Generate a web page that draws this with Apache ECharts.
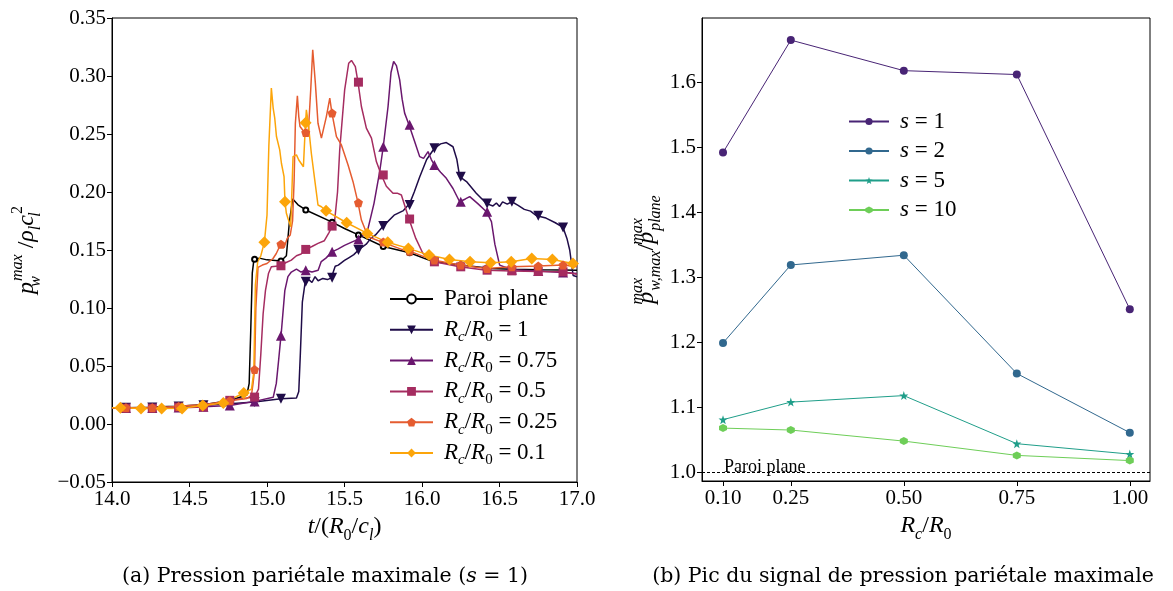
<!DOCTYPE html>
<html><head><meta charset="utf-8">
<script src="https://cdn.jsdelivr.net/npm/echarts@6/dist/echarts.min.js"></script>
<style>html,body{margin:0;padding:0;background:#fff}#c{width:1173px;height:591px}</style>
</head><body><div id="c"></div>
<script>
// ---------- DATA (left panel: t/(R0/cl) vs p) ----------
const xTicksLeft = [14.0, 14.5, 15.0, 15.5, 16.0, 16.5, 17.0];
const yTicksLeft = [-0.05, 0.0, 0.05, 0.10, 0.15, 0.20, 0.25, 0.30, 0.35];

// shared marker times for the first five curves
const markT = [14.09,14.26,14.43,14.59,14.76,14.92,15.09,15.25,15.42,15.59,15.75,15.92,16.08,16.25,16.42,16.58,16.75,16.91];
// marker times for Rc/R0 = 0.1
const markT01 = [14.054,14.187,14.32,14.452,14.585,14.718,14.85,14.983,15.116,15.249,15.381,15.514,15.647,15.779,15.912,16.045,16.177,16.31,16.443,16.576,16.708,16.841,16.974];

const linePlane = [[14.0,0.014],[14.3,0.0148],[14.5,0.016],[14.7,0.019],[14.8,0.022],[14.87,0.025],[14.885,0.035],[14.895,0.08],[14.905,0.13],[14.915,0.141],[14.95,0.143],[15.0,0.1415],[15.1,0.1402],[15.125,0.145],[15.145,0.175],[15.166,0.194],[15.2,0.189],[15.5,0.1685],[15.92,0.1476],[16.07,0.140],[16.44,0.134],[17.0,0.1326]];
const markPlane = [0.0141,0.0145,0.0152,0.0165,0.020,0.142,0.1405,0.1845,0.174,0.163,0.153,0.1476,0.1405,0.137,0.1345,0.1335,0.133,0.1328];

const lineRc1 = [[14.0,0.014],[14.5,0.0155],[14.92,0.019],[15.09,0.0218],[15.19,0.0225],[15.205,0.028],[15.215,0.06],[15.228,0.105],[15.245,0.121],[15.27,0.1245],[15.29,0.122],[15.31,0.127],[15.33,0.1235],[15.36,0.1255],[15.39,0.1245],[15.415,0.126],[15.44,0.136],[15.46,0.137],[15.5,0.141],[15.53,0.1435],[15.56,0.146],[15.6,0.151],[15.64,0.155],[15.67,0.16],[15.7,0.163],[15.75,0.1706],[15.82,0.18],[15.88,0.184],[15.92,0.19],[15.95,0.2],[15.985,0.213],[16.03,0.228],[16.08,0.2377],[16.12,0.2415],[16.157,0.2426],[16.2,0.239],[16.225,0.228],[16.243,0.2132],[16.287,0.209],[16.35,0.199],[16.416,0.19],[16.458,0.188],[16.48,0.1905],[16.5,0.1875],[16.52,0.1915],[16.55,0.1895],[16.58,0.1916],[16.62,0.1885],[16.66,0.185],[16.7,0.1835],[16.74,0.1795],[16.8,0.1775],[16.86,0.1735],[16.91,0.1695],[16.935,0.16],[16.953,0.15],[16.975,0.128],[17.0,0.127]];
const markRc1 = [0.0141,0.0143,0.015,0.0162,0.0175,0.019,0.0218,0.1226,0.126,0.150,0.1706,0.1888,0.2377,0.2132,0.19,0.1916,0.1795,0.1695];

const lineRc075 = [[14.0,0.0138],[14.4,0.0142],[14.76,0.016],[14.92,0.0195],[15.04,0.023],[15.06,0.035],[15.075,0.055],[15.093,0.08],[15.115,0.115],[15.135,0.127],[15.157,0.131],[15.19,0.1335],[15.22,0.131],[15.254,0.1326],[15.29,0.131],[15.33,0.1325],[15.35,0.14],[15.38,0.143],[15.42,0.1484],[15.46,0.151],[15.5,0.154],[15.55,0.157],[15.587,0.159],[15.62,0.163],[15.652,0.1686],[15.69,0.19],[15.727,0.2175],[15.753,0.239],[15.781,0.2737],[15.8,0.303],[15.817,0.3125],[15.835,0.309],[15.856,0.2967],[15.872,0.28],[15.888,0.268],[15.916,0.2579],[15.953,0.2434],[15.985,0.2305],[16.01,0.229],[16.039,0.2348],[16.06,0.228],[16.082,0.2233],[16.12,0.217],[16.157,0.2118],[16.2,0.203],[16.243,0.1916],[16.28,0.194],[16.308,0.196],[16.36,0.19],[16.416,0.183],[16.448,0.1744],[16.47,0.155],[16.501,0.137],[16.587,0.1326],[16.8,0.1315],[17.0,0.1298]];
const markRc075 = [0.0138,0.0138,0.0142,0.0148,0.016,0.0195,0.076,0.1326,0.1484,0.159,0.239,0.2579,0.2233,0.1916,0.183,0.1330,0.1318,0.1305];

const lineRc05 = [[14.0,0.0138],[14.5,0.0142],[14.76,0.0204],[14.92,0.0232],[14.945,0.03],[14.96,0.06],[14.975,0.095],[14.99,0.115],[15.01,0.13],[15.028,0.1355],[15.088,0.1364],[15.12,0.139],[15.157,0.1413],[15.19,0.145],[15.22,0.1465],[15.254,0.1505],[15.29,0.153],[15.329,0.1557],[15.37,0.158],[15.4,0.165],[15.42,0.1706],[15.437,0.176],[15.455,0.2],[15.469,0.236],[15.501,0.288],[15.527,0.311],[15.545,0.3134],[15.57,0.308],[15.587,0.2947],[15.609,0.2737],[15.641,0.255],[15.674,0.2464],[15.706,0.226],[15.738,0.2147],[15.77,0.205],[15.813,0.1989],[15.84,0.199],[15.867,0.1974],[15.916,0.1767],[15.96,0.16],[16.006,0.147],[16.082,0.1398],[16.243,0.1355],[16.416,0.1326],[16.587,0.132],[16.91,0.1312],[17.0,0.129]];
const markRc05 = [0.0137,0.0137,0.0146,0.0146,0.0204,0.0232,0.1364,0.1505,0.1706,0.2947,0.2147,0.1767,0.1398,0.1355,0.1326,0.132,0.1315,0.1312];

const lineRc025 = [[14.0,0.0141],[14.5,0.016],[14.76,0.02],[14.87,0.022],[14.9,0.025],[14.91,0.035],[14.92,0.0469],[14.928,0.1],[14.942,0.135],[14.97,0.137],[15.0,0.1384],[15.039,0.1427],[15.06,0.147],[15.088,0.155],[15.11,0.152],[15.13,0.16],[15.15,0.163],[15.165,0.175],[15.175,0.21],[15.183,0.2593],[15.196,0.283],[15.205,0.265],[15.213,0.2564],[15.243,0.2512],[15.265,0.2478],[15.282,0.288],[15.295,0.3226],[15.312,0.2939],[15.329,0.2593],[15.351,0.2464],[15.383,0.265],[15.405,0.2809],[15.419,0.268],[15.448,0.2478],[15.48,0.2406],[15.523,0.2233],[15.555,0.2089],[15.587,0.1908],[15.609,0.1758],[15.652,0.1614],[15.738,0.157],[15.9,0.149],[16.071,0.1413],[16.243,0.137],[16.416,0.1341],[16.587,0.1355],[16.75,0.1362],[16.91,0.137],[17.0,0.1355]];
const markRc025 = [0.0141,0.0141,0.015,0.0165,0.02,0.0469,0.155,0.2512,0.268,0.1908,0.157,0.149,0.1413,0.137,0.1341,0.1355,0.1362,0.137];

const lineRc01 = [[14.0,0.014],[14.3,0.0133],[14.45,0.0135],[14.585,0.016],[14.718,0.018],[14.85,0.0267],[14.9,0.03],[14.915,0.045],[14.925,0.12],[14.94,0.14],[14.96,0.145],[14.983,0.1566],[15.0,0.18],[15.012,0.24],[15.028,0.2896],[15.04,0.272],[15.05,0.2636],[15.061,0.2478],[15.082,0.2363],[15.093,0.2248],[15.11,0.2132],[15.116,0.1916],[15.125,0.1816],[15.135,0.1773],[15.153,0.170],[15.168,0.2305],[15.19,0.232],[15.205,0.2276],[15.217,0.229],[15.235,0.2218],[15.243,0.2449],[15.254,0.2708],[15.265,0.2607],[15.286,0.2334],[15.308,0.2104],[15.329,0.1888],[15.351,0.1873],[15.381,0.1838],[15.514,0.1735],[15.647,0.1643],[15.779,0.1566],[15.912,0.1514],[16.045,0.1456],[16.177,0.1419],[16.31,0.1398],[16.443,0.139],[16.576,0.1398],[16.708,0.1427],[16.841,0.1419],[16.974,0.1384],[17.0,0.138]];
const markRc01 = [0.0141,0.0133,0.0133,0.0133,0.016,0.018,0.0267,0.1566,0.1916,0.2598,0.1838,0.1735,0.1643,0.1566,0.1514,0.1456,0.1419,0.1398,0.139,0.1398,0.1427,0.1419,0.1384];

// ---------- DATA (right panel: Rc/R0 vs peak ratio) ----------
const rcVals = [0.10, 0.25, 0.50, 0.75, 1.00];
const yTicksRight = [1.0, 1.1, 1.2, 1.3, 1.4, 1.5, 1.6];
const s1 = [1.492, 1.665, 1.618, 1.612, 1.251];
const s2 = [1.199, 1.319, 1.334, 1.152, 1.061];
const s5 = [1.081, 1.108, 1.118, 1.044, 1.028];
const s10 = [1.068, 1.065, 1.048, 1.026, 1.018];

// ---------- CHART ----------
const F = 'Liberation Serif';
const FC = 'DejaVu Serif';
const FS = 21;
const rich = {
  i: {fontFamily: F, fontStyle: 'italic', fontSize: 24, lineHeight: 34, color: '#000'},
  n: {fontFamily: F, fontSize: 24, lineHeight: 34, color: '#000'},
  sub: {fontFamily: F, fontStyle: 'italic', fontSize: 16, lineHeight: 17, verticalAlign: 'bottom', color: '#000'},
  subn: {fontFamily: F, fontSize: 16, lineHeight: 17, verticalAlign: 'bottom', color: '#000'},
  sup: {fontFamily: F, fontStyle: 'italic', fontSize: 16, lineHeight: 17, verticalAlign: 'top', color: '#000'},
  supn: {fontFamily: F, fontSize: 16, lineHeight: 17, verticalAlign: 'top', color: '#000'},
  subz: {fontFamily: F, fontStyle: 'italic', fontSize: 16, lineHeight: 17, verticalAlign: 'bottom', width: 1, color: '#000'},
  supz: {fontFamily: F, fontStyle: 'italic', fontSize: 16, lineHeight: 17, verticalAlign: 'top', width: 1, color: '#000'}
};
const legRich = {
  g: {fontSize: 10, lineHeight: 10, width: 6},
  i: {fontFamily: F, fontStyle: 'italic', fontSize: 23, lineHeight: 30, color: '#000'},
  n: {fontFamily: F, fontSize: 23, lineHeight: 30, color: '#000'},
  sub: {fontFamily: F, fontStyle: 'italic', fontSize: 15, lineHeight: 15, verticalAlign: 'bottom', color: '#000'},
  subn: {fontFamily: F, fontSize: 15, lineHeight: 15, verticalAlign: 'bottom', color: '#000'}
};
const rcLabel = v => '{g| }{i|R}{sub|c}{n|/}{i|R}{subn|0}{n| = ' + v + '}';
const leftNames = ['Paroi plane', 'Rc1', 'Rc075', 'Rc05', 'Rc025', 'Rc01'];
const leftLabels = {
  'Paroi plane': '{g| }{n|Paroi plane}{subn| }', 'Rc1': rcLabel('1'), 'Rc075': rcLabel('0.75'),
  'Rc05': rcLabel('0.5'), 'Rc025': rcLabel('0.25'), 'Rc01': rcLabel('0.1')
};
const rightNames = ['s1', 's2', 's5', 's10'];
const rightLabels = {s1: '{g| }{i|s}{n| = 1}', s2: '{g| }{i|s}{n| = 2}', s5: '{g| }{i|s}{n| = 5}', s10: '{g| }{i|s}{n| = 10}'};

const symDown = 'path://M0,0 L10,0 L5,9 Z';
const symPent = 'path://M5,0 L10,3.8 L8.1,10 L1.9,10 L0,3.8 Z';
const symStar = 'path://M5,0 L6.2,3.5 L10,3.6 L7,5.9 L8.1,9.5 L5,7.4 L1.9,9.5 L3,5.9 L0,3.6 L3.8,3.5 Z';
const symHex = 'path://M5,0 L9.3,2.5 L9.3,7.5 L5,10 L0.7,7.5 L0.7,2.5 Z';

function merge(line, mT, mV) {
  const pts = line.map(d => ({value: [d[0], d[1]], symbol: 'none'}));
  mT.forEach((t, k) => pts.push({value: [t, mV[k]]}));
  pts.sort((a, b) => a.value[0] - b.value[0]);
  return pts;
}
function leftSeries(name, color, line, mT, mV, symbol, size) {
  return {
    name, type: 'line', xAxisIndex: 0, yAxisIndex: 0, data: merge(line, mT, mV),
    symbol, symbolSize: size, showSymbol: true, showAllSymbol: true,
    lineStyle: {color, width: 1.5}, itemStyle: {color, borderWidth: name === 'Paroi plane' ? 1 : 0},
    emphasis: {disabled: true}, animation: false, z: 2
  };
}
function rightSeries(name, color, vals, symbol, size) {
  return {
    name, type: 'line', xAxisIndex: 1, yAxisIndex: 1,
    data: rcVals.map((x, k) => [x, vals[k]]),
    symbol, symbolSize: size, showSymbol: true,
    lineStyle: {color, width: 1}, itemStyle: {color},
    emphasis: {disabled: true}, animation: false
  };
}

const axisCommon = {
  axisLine: {show: true, onZero: false, lineStyle: {color: '#000', width: 1}},
  axisTick: {show: true, length: 5, lineStyle: {color: '#000', width: 1}},
  splitLine: {show: false},
  axisLabel: {fontFamily: F, fontSize: FS, color: '#000'}
};
const fmt = d => v => (v < -1e-9 ? '\u2212' : '') + Math.abs(v).toFixed(d);

const rightSer1 = rightSeries('s1', '#482475', s1, 'circle', 8);
rightSer1.markLine = {
  silent: true, symbol: 'none', animation: false,
  lineStyle: {color: '#000', type: [3, 2], width: 1},
  label: {show: true, position: 'insideStartTop', formatter: 'Paroi plane', fontFamily: F, fontSize: 18, color: '#000', distance: [22, -4]},
  data: [{yAxis: 1.0}]
};

const option = {
  backgroundColor: '#fff',
  animation: false,
  grid: [
    {left: 112, top: 18, width: 465, height: 464, show: true, borderColor: '#000', borderWidth: 1, containLabel: false},
    {left: 702, top: 18, width: 448, height: 463, show: true, borderColor: '#000', borderWidth: 1, containLabel: false}
  ],
  xAxis: [
    Object.assign({}, axisCommon, {
      type: 'value', gridIndex: 0, min: xTicksLeft[0], max: xTicksLeft[xTicksLeft.length - 1], interval: 0.5,
      axisLabel: Object.assign({}, axisCommon.axisLabel, {formatter: fmt(1), margin: 7}),
      name: '{i|t}{n|/(}{i|R}{subn|0}{n|/}{i|c}{sub|l}{n|)}', nameLocation: 'middle', nameGap: 24,
      nameTextStyle: {rich}
    }),
    Object.assign({}, axisCommon, {
      type: 'value', gridIndex: 1, min: 0.0535, max: 1.0447,
      axisTick: Object.assign({}, axisCommon.axisTick, {customValues: rcVals}),
      axisLabel: Object.assign({}, axisCommon.axisLabel, {customValues: rcVals, formatter: fmt(2), margin: 7}),
      name: '{i|R}{sub|c}{n|/}{i|R}{subn|0}', nameLocation: 'middle', nameGap: 24,
      nameTextStyle: {rich}
    })
  ],
  yAxis: [
    Object.assign({}, axisCommon, {
      type: 'value', gridIndex: 0, min: yTicksLeft[0], max: yTicksLeft[yTicksLeft.length - 1], interval: 0.05,
      axisLabel: Object.assign({}, axisCommon.axisLabel, {formatter: fmt(2), margin: 6}),
      name: '{i|p}{subz|w}{sup|max}{n| /}{i|\u03c1}{sub|l}{i|c}{subz|l}{supn|2}', nameLocation: 'middle', nameGap: 68, nameRotate: 90,
      nameTextStyle: {rich}
    }),
    Object.assign({}, axisCommon, {
      type: 'value', gridIndex: 1, min: 0.9866, max: 1.699,
      axisTick: Object.assign({}, axisCommon.axisTick, {customValues: yTicksRight}),
      axisLabel: Object.assign({}, axisCommon.axisLabel, {customValues: yTicksRight, formatter: fmt(1), margin: 6}),
      name: '{i|p}{supz|max}{sub|w,max}{n|/}{i|p}{supz|max}{sub|plane}', nameLocation: 'middle', nameGap: 38, nameRotate: 90,
      nameTextStyle: {rich}
    })
  ],
  legend: [
    {
      data: leftNames, orient: 'vertical', left: 384, top: 282.5, itemWidth: 43, itemHeight: 11, itemGap: 4.3,
      selectedMode: false, formatter: n => leftLabels[n],
      textStyle: {fontFamily: F, fontSize: 23, color: '#000', rich: legRich}
    },
    {
      data: rightNames, orient: 'vertical', left: 843, top: 105, itemWidth: 40, itemHeight: 9, itemGap: 6.5,
      selectedMode: false, formatter: n => rightLabels[n],
      textStyle: {fontFamily: F, fontSize: 23, color: '#000', rich: legRich}
    }
  ],
  graphic: [
    {type: 'text', x: 325, y: 577, style: {text: '{n|(a) Pression pariétale maximale (}{i|s}{n| = 1)}', textAlign: 'center', textVerticalAlign: 'middle',
      rich: {n: {fontFamily: FC, fontSize: 20.5, fill: '#000'}, i: {fontFamily: FC, fontSize: 20.5, fontStyle: 'italic', fill: '#000'}}}},
    {type: 'text', x: 903, y: 577, style: {text: '(b) Pic du signal de pression pariétale maximale', textAlign: 'center', textVerticalAlign: 'middle',
      fontFamily: FC, fontSize: 20.5, fill: '#000'}}
  ],
  series: [
    leftSeries('Paroi plane', '#000000', linePlane, markT, markPlane, 'emptyCircle', 5),
    leftSeries('Rc1', '#1f0c48', lineRc1, markT, markRc1, symDown, 10),
    leftSeries('Rc075', '#6a176e', lineRc075, markT, markRc075, 'triangle', 10),
    leftSeries('Rc05', '#a52c60', lineRc05, markT, markRc05, 'rect', 9),
    leftSeries('Rc025', '#e55c30', lineRc025, markT, markRc025, symPent, 9),
    leftSeries('Rc01', '#fca50a', lineRc01, markT01, markRc01, 'diamond', 12),
    rightSer1,
    rightSeries('s2', '#31688e', s2, 'circle', 8),
    rightSeries('s5', '#1f9e89', s5, symStar, 9),
    rightSeries('s10', '#6ece58', s10, symHex, 8)
  ]
};
const chart = echarts.init(document.getElementById('c'), null, {renderer: 'canvas'});
chart.setOption(option);
</script></body></html>
